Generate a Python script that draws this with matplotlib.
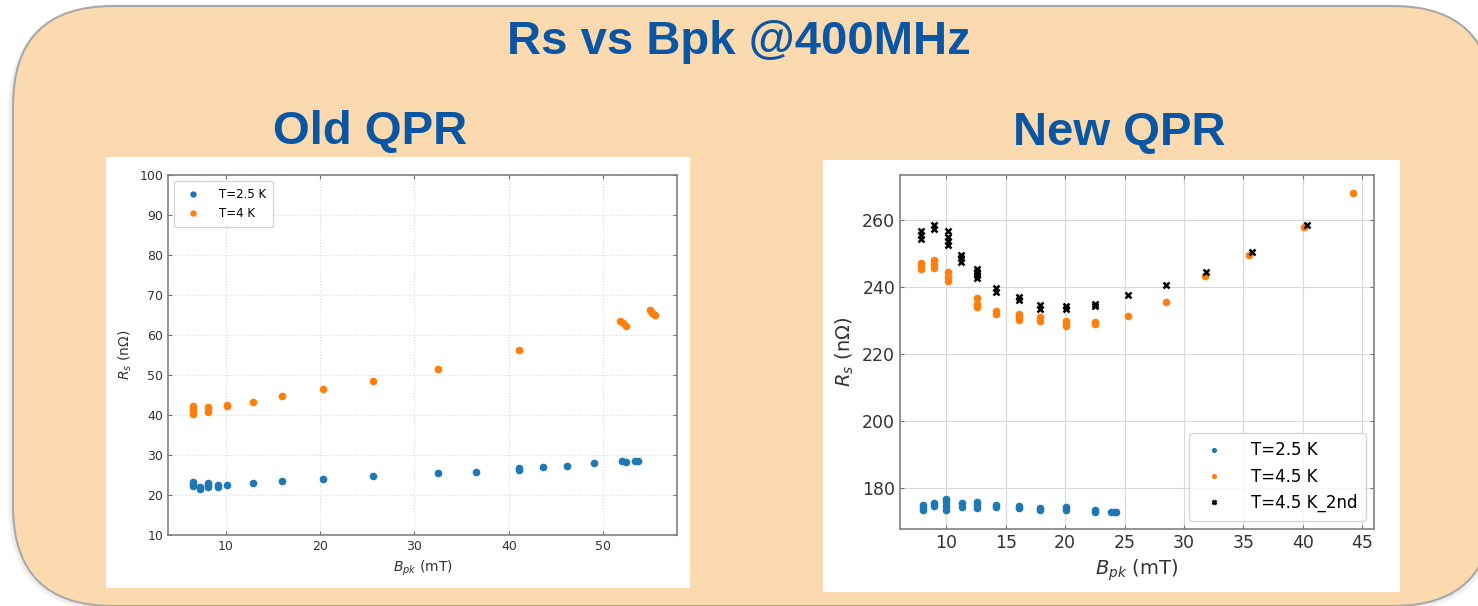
import matplotlib.pyplot as plt
import matplotlib.patches as mpatches
from matplotlib.transforms import IdentityTransform

# --- Old QPR data ---
old_b25_x = [6.5, 6.5, 6.5, 7.3, 7.3, 8.1, 8.1, 8.1, 9.2, 9.2, 10.2, 12.9, 16.0, 20.3,
             25.6, 32.5, 36.5, 41.1, 41.1, 43.6, 46.2, 49.0, 52.0, 52.4, 53.4, 53.7]
old_b25_y = [22.3, 22.8, 23.2, 21.6, 22.1, 22.0, 22.6, 23.0, 22.1, 22.4, 22.5, 23.0, 23.5, 24.1,
             24.7, 25.4, 25.75, 26.3, 26.8, 27.1, 27.25, 28.1, 28.6, 28.3, 28.6, 28.5]

old_b4_x = [6.5, 6.5, 6.5, 6.5, 8.1, 8.1, 8.1, 10.2, 10.2, 12.9, 16.0, 20.3, 25.6, 32.5,
            41.1, 51.8, 52.1, 52.4, 54.9, 55.2, 55.5]
old_b4_y = [40.3, 41.0, 41.6, 42.2, 40.8, 41.4, 42.0, 42.2, 42.6, 43.3, 44.7, 46.4, 48.6, 51.4,
            56.3, 63.5, 62.9, 62.3, 66.2, 65.5, 64.9]

# --- New QPR data ---
new_b25_x = [8.0, 8.0, 8.0, 9.0, 9.0, 10.0, 10.0, 10.0, 10.0, 11.35, 11.35, 12.6, 12.6, 12.6,
             14.2, 14.2, 16.1, 16.1, 17.9, 17.9, 20.1, 20.1, 22.5, 22.5, 23.9, 24.1, 24.3]
new_b25_y = [173.2, 174.0, 174.8, 174.6, 175.5, 173.4, 174.5, 175.6, 176.6, 174.3, 175.3,
             173.8, 174.8, 175.8, 174.2, 174.9, 173.9, 174.6, 173.4, 174.0, 173.3, 174.1,
             172.7, 173.4, 172.8, 172.8, 172.7]

new_b45_x = [7.9, 7.9, 7.9, 9.0, 9.0, 9.0, 10.1, 10.1, 10.1, 12.6, 12.6, 12.6, 14.2, 14.2,
             16.1, 16.1, 16.1, 17.9, 17.9, 20.1, 20.1, 20.1, 22.5, 22.5, 25.3, 28.5, 31.8,
             35.5, 40.1, 44.2]
new_b45_y = [245.3, 246.2, 247.2, 245.6, 246.8, 248.0, 241.8, 243.0, 244.4, 236.6, 234.0,
             234.8, 232.0, 232.8, 230.0, 231.0, 232.0, 229.9, 230.9, 228.4, 229.2, 229.9,
             228.9, 229.6, 231.3, 235.6, 243.3, 249.5, 257.8, 268.2]

new_2nd_x = [7.9, 7.9, 7.9, 9.0, 9.0, 10.1, 10.1, 10.1, 10.1, 11.2, 11.2, 11.2, 12.6, 12.6,
             12.6, 12.6, 14.2, 14.2, 16.1, 16.1, 17.9, 17.9, 20.1, 20.1, 22.5, 22.5, 25.3,
             28.5, 31.9, 35.7, 40.4]
new_2nd_y = [254.3, 255.5, 256.8, 257.3, 258.6, 252.7, 253.8, 255.0, 256.8, 247.6, 248.6,
             249.6, 242.6, 243.5, 244.4, 245.5, 238.6, 239.6, 236.0, 236.9, 233.5, 234.5,
             233.4, 234.3, 234.4, 235.0, 237.5, 240.7, 244.6, 250.6, 258.4]

BLUE = "#1f77b4"
ORANGE = "#ff7f0e"
TITLE_C = "#0b56a3"
W, H = 1478, 606

fig = plt.figure(figsize=(W / 100, H / 100), dpi=100)
fig.patch.set_facecolor("white")

# rounded peach background box (pixel coords), soft shadow behind it
for grow, col in [(5, "#f4f4f4"), (3, "#ececec")]:
    fig.patches.append(mpatches.FancyBboxPatch(
        (13 - grow, 0 - grow), 1480 + 2 * grow, 600 + grow,
        boxstyle="round,pad=0,rounding_size=%d" % (100 + grow),
        transform=IdentityTransform(), facecolor=col, edgecolor="none", zorder=0))
box = mpatches.FancyBboxPatch((13, 0), 1480, 600, boxstyle="round,pad=0,rounding_size=100",
                              transform=IdentityTransform(), facecolor="#fbdaaf",
                              edgecolor="#a9a9a9", linewidth=1.5, zorder=1)
fig.patches.append(box)

# white chart panels
for (x0, y0, w, h) in [(106, 18, 584, 431), (823, 14, 577, 432)]:
    fig.patches.append(mpatches.Rectangle((x0 / W, y0 / H), w / W, h / H, transform=fig.transFigure,
                                          facecolor="white", edgecolor="none", zorder=2))

fig.text(739 / W, 1 - 42 / H, "Rs vs Bpk @400MHz", ha="center", va="center", fontsize=34,
         fontweight="bold", color=TITLE_C, family="Liberation Sans")
fig.text(370 / W, 1 - 132 / H, "Old QPR", ha="center", va="center", fontsize=34,
         fontweight="bold", color=TITLE_C, family="Liberation Sans")
fig.text(1119 / W, 1 - 133 / H, "New QPR", ha="center", va="center", fontsize=34,
         fontweight="bold", color=TITLE_C, family="Liberation Sans")


def style_axes(ax, fs, gridls):
    for s in ax.spines.values():
        s.set_color("#808080")
        s.set_linewidth(1.2)
    ax.tick_params(direction="in", top=True, right=True, labelsize=fs, colors="#707070",
                   labelcolor="#333333", length=3)
    ax.grid(True, color="#d9d9d9", linestyle=gridls, linewidth=0.8)
    ax.set_axisbelow(True)


# --- Old QPR ---
ax1 = fig.add_axes([168 / W, 71 / H, 509 / W, 360 / H], zorder=3)
ax1.plot(old_b25_x, old_b25_y, "o", color=BLUE, ms=4.5, label="T=2.5 K")
ax1.plot(old_b4_x, old_b4_y, "o", color=ORANGE, ms=4.5, label="T=4 K")
ax1.set_xlim(3.9, 57.8)
ax1.set_ylim(10, 100)
ax1.set_xticks([10, 20, 30, 40, 50])
ax1.set_yticks(range(10, 101, 10))
style_axes(ax1, 9, ":")
ax1.set_xlabel("$B_{pk}$ (mT)", fontsize=10, color="#333333")
ax1.set_ylabel("$R_s$ (nΩ)", fontsize=10, color="#333333")
ax1.legend(loc="upper left", fontsize=8.5, markerscale=0.8, handletextpad=1.2, borderpad=0.6)

# --- New QPR ---
ax2 = fig.add_axes([900 / W, 77 / H, 474 / W, 354 / H], zorder=3)
ax2.plot(new_b25_x, new_b25_y, "o", color=BLUE, ms=4.5, label="T=2.5 K")
ax2.plot(new_b45_x, new_b45_y, "o", color=ORANGE, ms=4.5, label="T=4.5 K")
ax2.plot(new_2nd_x, new_2nd_y, "x", color="black", ms=5, mew=1.8, label="T=4.5 K_2nd")
ax2.set_xlim(6.1, 46.0)
ax2.set_ylim(167.6, 273.5)
ax2.set_xticks(range(10, 46, 5))
ax2.set_yticks([180, 200, 220, 240, 260])
style_axes(ax2, 12.5, "-")
ax2.set_xlabel("$B_{pk}$ (mT)", fontsize=14, color="#333333")
ax2.set_ylabel("$R_s$ (nΩ)", fontsize=14, color="#333333")
ax2.legend(loc="lower right", fontsize=12, markerscale=0.6, handletextpad=1.2, borderpad=0.5)

fig.savefig("out.png", dpi=100)
